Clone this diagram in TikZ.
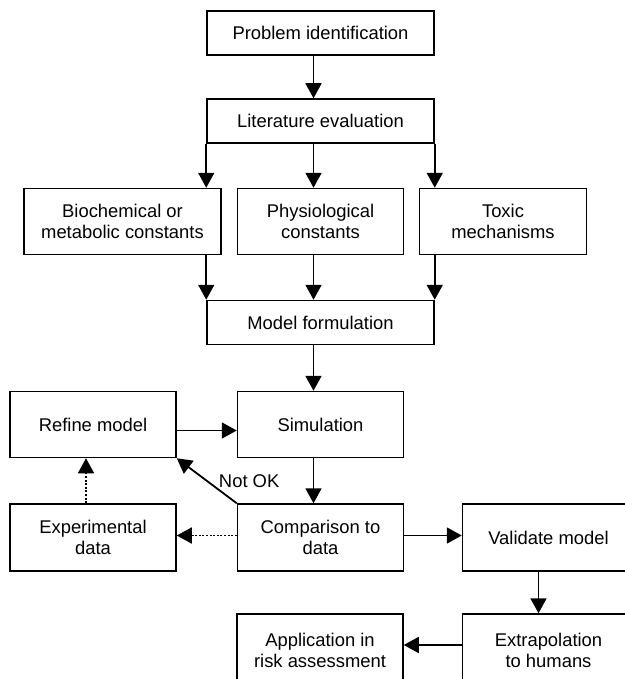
\documentclass[tikz,border=0pt]{standalone}
\usepackage{fontspec}
\setmainfont{Liberation Sans}
\usetikzlibrary{arrows.meta}

\begin{document}
\begin{tikzpicture}[-{Triangle[length=15pt,width=16pt]},line width=1.8pt,node distance=100pt,
  main node/.style={rectangle,draw,line width=1.5pt,align=center,minimum width=166pt,minimum height=66pt,
    font=\fontsize{18.4}{21}\selectfont},
  wide node/.style={main node,minimum width=227pt,minimum height=44pt},
  dot line/.style={dash pattern=on 2pt off 1.6pt,line width=1.5pt}]
  \useasboundingbox (0,0) rectangle (624pt,-679pt);
  \node[wide node] (prob) at (320.5pt,-33pt) {Problem identification};
  \node[wide node] (lit) [below of=prob, node distance=88pt] {Literature evaluation};
  \node[main node] (phys) [below of=lit, node distance=100.5pt] {Physiological\\constants};
  \node[main node, minimum width=197pt] (bio) [left of=phys, node distance=198pt] {Biochemical or\\metabolic constants};
  \node[main node, minimum width=167pt] (tox) [right of=phys, node distance=182.5pt] {Toxic\\mechanisms};
  \node[wide node] (form) [below of=lit, node distance=201.5pt] {Model formulation};
  \node[main node] (sim) [below of=phys, node distance=203pt] {Simulation};
  \node[main node] (refine) [left of=sim, node distance=227.5pt] {Refine model};
  \node[main node, minimum height=67pt] (comp) [below of=sim, node distance=113pt] {Comparison to\\data};
  \node[main node, minimum height=67pt] (exper) [left of=comp, node distance=227.5pt] {Experimental\\data};
  \node[main node, minimum width=172pt, minimum height=67pt] (valid) [right of=comp, node distance=228pt] {Validate model};
  \node[main node, minimum width=172pt, minimum height=72pt] (extra) [below of=valid, node distance=112.5pt] {Extrapolation\\to humans};
  \node[main node, minimum height=72pt] (appl) [left of=extra, node distance=228.5pt] {Application in\\risk assessment};
  \path[every node/.style={font=\fontsize{18.4}{21}\selectfont}]
    ([xshift=-7pt]prob.south) edge ([xshift=-7pt]lit.north)
    (lit.south west) edge (lit.south west |- bio.north)
    ([xshift=-7pt]lit.south) edge ([xshift=-7pt]lit.south |- phys.north)
    (lit.south east) edge (lit.south east |- tox.north)
    (form.north west |- bio.south) edge (form.north west)
    ([xshift=-7pt]form.north |- phys.south) edge ([xshift=-7pt]form.north)
    (form.north east |- tox.south) edge (form.north east)
    ([xshift=-7pt]form.south) edge ([xshift=-7pt]form.south |- sim.north)
    ([yshift=-6pt]refine.east) edge ([yshift=-6pt]sim.west)
    ([xshift=-7pt]sim.south) edge ([xshift=-7pt]comp.north)
    (comp.north west) edge node[right=8pt] {Not OK} (refine.south east)
    ([yshift=2pt]comp.west) edge[dot line] ([yshift=2pt]exper.east)
    ([xshift=-7pt]exper.north) edge[dot line] ([xshift=-7pt]refine.south)
    ([yshift=2pt]comp.east) edge ([yshift=2pt]valid.west)
    ([xshift=-10pt]valid.south) edge ([xshift=-10pt]extra.north)
    ([yshift=5pt]extra.west) edge ([yshift=5pt]appl.east);
\end{tikzpicture}
\end{document}
